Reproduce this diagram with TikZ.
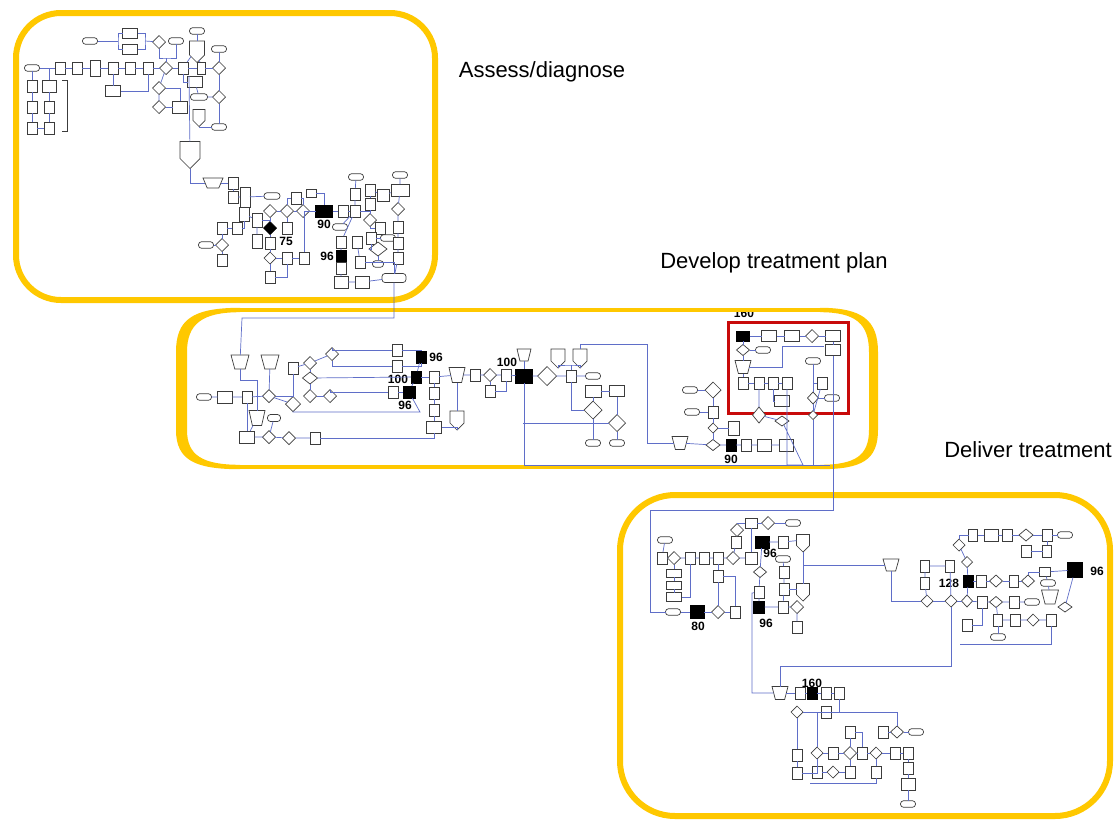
\documentclass[tikz,border=0pt]{standalone}
\usepackage{fontspec}
\setmainfont{Liberation Sans}
\usetikzlibrary{shapes.geometric,shapes.symbols}
\definecolor{fy}{RGB}{255,200,0}
\definecolor{lnc}{RGB}{95,110,200}
\definecolor{shp}{RGB}{60,60,60}
\definecolor{rd}{RGB}{200,10,10}
\tikzset{
 sh/.style={draw=shp,fill=white,line width=0.7pt,inner sep=0pt,outer sep=0pt},
 bx/.style={sh,rectangle,minimum width=10pt,minimum height=12pt},
 bw/.style={minimum width=#1pt},
 bh/.style={minimum height=#1pt},
 dia/.style={sh,diamond,shape aspect=1,minimum width=13pt,minimum height=13pt},
 tm/.style={sh,rectangle,rounded corners=3pt,minimum width=15pt,minimum height=6.5pt},
 tr/.style={sh,trapezium,inner sep=1pt,shape border rotate=180,trapezium left angle=70,trapezium right angle=70,trapezium stretches=true,minimum width=18pt,minimum height=12pt},
 sd/.style={sh,signal,inner sep=1pt,signal to=south,signal from=nowhere,minimum width=14pt,minimum height=14pt},
 bk/.style={fill=black,draw=black},
 num/.style={font=\fontsize{12}{12}\selectfont\bfseries,inner sep=0pt},
 ttl/.style={font=\fontsize{22}{24}\selectfont,inner sep=0pt},
 cn/.style={draw=lnc,line width=0.7pt},
 frm/.style={draw=fy,line width=6pt},
}
\newcommand\Nbx[4][]{\node[bx,#1] (#2) at (#3,#4) {};}
\newcommand\Ndi[4][]{\node[dia,#1] (#2) at (#3,#4) {};}
\newcommand\Ntm[4][]{\node[tm,#1] (#2) at (#3,#4) {};}
\newcommand\Ntr[4][]{\node[tr,#1] (#2) at (#3,#4) {};}
\newcommand\Nsd[4][]{\node[sd,#1] (#2) at (#3,#4) {};}
\newcommand\Nbk[4][]{\node[bx,bk,#1] (#2) at (#3,#4) {};}
\begin{document}
\begin{tikzpicture}[x=1pt,y=-1pt]
\useasboundingbox (0,0) rectangle (1120,820);
\fill[white] (0,0) rectangle (1120,820);
\node[num] (L160a) at (744,313.5) {160};
% frames
\draw[frm,rounded corners=45pt] (16,13) rectangle (435,300);
\draw[draw=fy,line width=4.5pt] (236,310) -- (824,310);
\draw[draw=fy,line width=4.5pt] (236,467) -- (824,467);
\fill[fy] (240,307.8) .. controls (192,307.8) and (176,320) .. (176,352) -- (176,430) .. controls (176,460) and (195,469.2) .. (240,469.2) -- (240,464.8) .. controls (202,464.8) and (187,455) .. (187,430) -- (187,352) .. controls (187,324) and (202,312.2) .. (240,312.2) -- cycle;
\fill[fy] (820,307.8) .. controls (862,307.8) and (878,320) .. (878,352) -- (878,430) .. controls (878,460) and (862,469.2) .. (820,469.2) -- (820,464.8) .. controls (856,464.8) and (869,455) .. (869,430) -- (869,352) .. controls (869,324) and (856,312.2) .. (820,312.2) -- cycle;
\draw[frm,rounded corners=55pt] (620,495) rectangle (1110,816);
\draw[draw=rd,line width=3pt] (728,322) rectangle (848,413);
% titles
\node[ttl] (t1) at (542,72) {Assess/diagnose};
\node[ttl] (t2) at (774,263) {Develop treatment plan};
\node[ttl] (t3) at (1028,450) {Deliver treatment};

% ===== Frame 1 top cluster
\Ntm{A1}{90}{41}
\Nbx[bw=15,bh=10]{A2}{130}{33}
\Nbx[bw=15,bh=10]{A3}{130}{49}
\Ndi{A4}{159}{42}
\Ntm{A5}{176}{41}
\Ntm{A6}{197}{31}
\Nsd[bw=15,bh=15]{A7}{197}{48}
\Ntm{A8}{219}{49}
\Ntm{A9}{32}{68}
\Nbx{A10}{60}{68}
\Nbx{A11}{77}{68}
\Nbx[bh=16]{A12}{95}{68}
\Nbx{A13}{113}{68}
\Nbx{A14}{130}{68}
\Nbx{A15}{148}{68}
\Ndi{A16}{166}{68}
\Nbx{A17}{183}{68}
\Nbx[bw=8]{A18}{201}{68}
\Ndi{A19}{219}{68}
\Nbx{A20}{32}{86}
\Nbx[bw=14]{A21}{49}{86}
\Nbx{A22}{32}{107}
\Nbx{A23}{49}{107}
\Nbx{A24}{32}{128}
\Nbx{A25}{49}{128}
\Nbx[bw=15,bh=11]{A26}{113}{91}
\Ndi{A27}{159}{88}
\Ndi{A28}{159}{107}
\Nbx[bw=15,bh=11]{A29}{195}{82}
\Ntm[bw=17]{A30}{199}{97}
\Nbx[bw=15]{A31}{180}{107}
\Ndi{A32}{219}{97}
\Nsd[bw=12,bh=12]{A33}{199}{115}
\Ntm{A34}{219}{127}
\Nsd[bw=20,bh=18]{A35}{190}{150}
\draw[draw=shp,line width=0.7pt] (62,80) -- (67,80) -- (67,131) -- (62,131);
\coordinate (j1) at (49,68);
\coordinate (j2) at (118,41);
\coordinate (j3) at (145,41);
\coordinate (j4) at (166,58);
\coordinate (j5) at (189,76);
\draw[cn] (A9)--(A10)--(A11)--(A12)--(A13)--(A14)--(A15)--(A16)--(A17)--(A18)--(A19);
\draw[cn] (A9)--(A20)--(A22)--(A24)--(A25)--(A23)--(A21)--(j1);
\draw[cn] (A1)--(j2); \draw[cn] (A2) -| (j2) |- (A3);
\draw[cn] (A2) -| (j3) |- (A3); \draw[cn] (j3)--(A4);
\draw[cn] (A4) |- (j4) -| (A5); \draw[cn] (j4)--(A16);
\draw[cn] (A6)--(A7); \draw[cn] (A7)--(A17); \draw[cn] (A7)--(A18);
\draw[cn] (A8)--(A19)--(A32)--(A34);
\draw[cn] (A13)--(A26); \draw[cn] (A26) -| (A15);
\draw[cn] (A16)--(A27)--(A28);
\draw[cn] (A27) -| (A31); \draw[cn] (A28)--(A31);
\draw[cn] (A17) |- (A29); \draw[cn] (A29)--(A30)--(A32);
\draw[cn] (A33) |- (A34);
\draw[cn] (j5)--(A35);

% ===== Frame 1 bottom cluster
\Ntr[bw=20,bh=10]{D1}{213}{183}
\Nbx{D2}{233}{183}
\Nbx{D3}{233}{197}
\Nbx[bh=20]{D4}{245}{197}
\Nbx[bh=14]{D5}{244}{214}
\Nbx[bh=14]{D6}{257}{220}
\Nbx[bh=14]{D7}{257}{241}
\Ntm[bw=16]{D8}{272}{196}
\Nbx{D9}{296}{198}
\Nbx[bh=8]{D10}{311}{193}
\Ndi{D11}{270}{211}
\Ndi{D12}{287}{211}
\Ndi{D13}{303}{211}
\Nbk[bw=17,bh=12]{D14}{324}{211}
\node[num] (L90a) at (324,224) {90};
\node[dia,bk] (D15) at (270,228) {};
\node[num] (L75) at (286,241) {75};
\Nbx{D16}{287}{228}
\Nbx{D17}{270}{243}
\Ndi[bw=12,bh=12]{D18}{270}{258}
\Nbx{D19}{270}{277}
\Nbx{D20}{287}{258}
\Nbx{D21}{304}{258}
\Nbx{D22}{222}{228}
\Nbx{D23}{237}{228}
\Ndi{D24}{222}{245}
\Ntm{D25}{206}{245}
\Nbx{D26}{222}{260}
\Nbx{D27}{343}{211}
\Nbx{D28}{355}{211}
\Nbx{D29}{355}{194}
\Ntm{D30}{356}{177}
\Ntm{D31}{340}{227}
\Nbx{D32}{341}{242}
\Nbk{D33}{341}{256}
\node[num] (L96a) at (327,256) {96};
\Nbx{D34}{341}{268}
\Nbx[bw=14]{D35}{341}{282}
\Nbx[bw=14]{D36}{362}{282}
\Ntm[bw=24,bh=9]{D37}{394}{278}
\Nbx{D38}{357}{242}
\Nbx{D39}{360}{262}
\Nbx{D40}{370}{190}
\Nbx[bw=12]{D41}{383}{195}
\Nbx[bw=18,bh=12]{D42}{400}{190}
\Ntm{D43}{400}{175}
\Nbx{D44}{370}{204}
\Ndi{D45}{370}{220}
\Nbx{D46}{380}{228}
\Nbx{D47}{371}{238}
\Ntm{D48}{388}{238}
\Ndi[bw=18,bh=14]{D49}{378}{249}
\Ntm[bw=11]{D50}{378}{264}
\Ndi{D51}{398}{209}
\Nbx{D52}{398}{227}
\Nbx{D53}{398}{243}
\Nbx{D54}{398}{258}
\draw[cn] (A35) |- (D1);
\draw[cn] (D1)--(D2)--(D3); \draw[cn] (D3)--(D4)--(D8);
\draw[cn] (D4)--(D5)--(D6)--(D7);
\draw[cn] (D6) -| (D11);
\draw[cn] (D11)--(D12)--(D13)--(D14)--(D27)--(D28);
\draw[cn] (D12) |- (D9); \draw[cn] (D9) -| (D13); \draw[cn] (D10) -| (D14);
\draw[cn] (D11)--(D15)--(D17)--(D18)--(D19);
\draw[cn] (D12)--(D16);
\draw[cn] (D18)--(D20)--(D21); \draw[cn] (D19) -| (D20);
\draw[cn] (D21) |- (D13);
\draw[cn] (D22)--(D23); \draw[cn] (D22)--(D24)--(D26); \draw[cn] (D25)--(D24);
\draw[cn] (D23) -| (D5);
\draw[cn] (D28)--(D29)--(D30);
\draw[cn] (D28)--(D31); \draw[cn] (D28)--(D32);
\draw[cn] (D32)--(D33)--(D34)--(D35)--(D36)--(D37);
\draw[cn] (D38)--(D39); \draw[cn] (D39) -| (D37);
\draw[cn] (D40)--(D44)--(D45); \draw[cn] (D45) |- (D46);
\draw[cn] (D47)--(D48); \draw[cn] (D47) |- (D49); \draw[cn] (D49)--(D50);
\draw[cn] (D40)--(D41)--(D42)--(D43);
\draw[cn] (D42)--(D51)--(D52)--(D53)--(D54)--(D37);
\draw[cn] (D28) -| (D44);

% ===== Frame 2
\Ntm{B1}{204}{397}
\Nbx[bw=15]{B2}{225}{397}
\Nbx{B3}{247}{397}
\Ndi{B4}{269}{396}
\Ntr[bw=18,bh=14]{B5}{240}{362}
\Ntr[bw=18,bh=14]{B6}{270}{362}
\Nbx{B7}{293}{368}
\Ndi{B8}{310}{363}
\Ndi{B9}{332}{354}
\Ndi[bw=15,bh=12]{B10}{310}{378}
\Ndi{B11}{310}{396}
\Ndi{B12}{330}{396}
\Ndi[bw=15,bh=15]{B13}{293}{404}
\Ntr[bw=16,bh=15]{B14}{257}{418}
\Ntm[bw=13,bh=7]{B15}{274}{418}
\Nbx[bw=15]{B16}{247}{437}
\Ndi{B17}{269}{437}
\Ndi{B18}{289}{438}
\Nbx{B19}{315}{438}
\Nbx{B20}{397}{350}
\Nbx{B21}{397}{366}
\Nbx{B22}{393}{392}
\Nbk{B23}{421}{357}
\node[num] (L96b) at (436,357) {96};
\Nbk{B24}{416}{377}
\node[num] (L100a) at (398,379) {100};
\Nbk[bw=12]{B25}{409}{392}
\node[num] (L96c) at (405,405) {96};
\Nbx{B26}{434}{377}
\Nbx{B27}{434}{393}
\Nbx{B28}{434}{410}
\Nbx[bw=15]{B29}{434}{427}
\Ntr[bw=16,bh=15]{B30}{457}{375}
\Nbx{B31}{475}{375}
\Ndi{B32}{490}{375}
\Nbx{B33}{506}{375}
\Nbx{B34}{490}{391}
\Nsd[bw=14,bh=13]{B35}{457}{417}
\Ntr[bw=14,bh=12]{B36}{524}{355}
\Nbk[bw=17,bh=14]{B37}{524}{376}
\node[num] (L100b) at (507,362) {100};
\Ndi[bw=19,bh=19]{B38}{547}{376}
\Nbx{B39}{571}{376}
\Ntm{B40}{593}{376}
\Nsd[bw=14,bh=13]{B41}{558}{355}
\Nsd[bw=14,bh=13]{B42}{580}{355}
\Nbx[bw=16]{B43}{593}{391}
\Nbx[bw=15,bh=11]{B44}{617}{391}
\Ndi[bw=18,bh=18]{B45}{593}{410}
\Ndi[bw=17,bh=17]{B46}{617}{423}
\Ntm{B47}{593}{443}
\Ntm{B48}{617}{443}
\Ntr[bw=16,bh=13]{B49}{680}{443}
\Ntm{B50}{690}{390}
\Ndi[bw=16,bh=16]{B51}{713}{390}
\Ntm{B52}{692}{412}
\Nbx{B53}{713}{412}
\Ndi[bw=10,bh=10]{B54}{713}{428}
\Ndi[bw=14,bh=11]{B55}{713}{445}
\Nbx[bw=11,bh=14]{B56}{734}{428}
\Nbk{B57}{731}{445}
\node[num] (L90b) at (731,459) {90};
\Nbx{B58}{746}{445}
\Nbx[bw=14]{B59}{764}{445}
\Nbx[bw=14]{B60}{786}{445}
\Nbk[bw=13,bh=10]{B61}{743}{336}
\Nbx[bw=15,bh=11]{B62}{769}{336}
\Nbx[bw=15,bh=11]{B63}{792}{336}
\Ndi{B64}{812}{336}
\Nbx[bw=15,bh=11]{B65}{833}{336}
\Nbx[bw=15,bh=11]{B66}{833}{350}
\Ndi[bw=13,bh=11]{B67}{743}{350}
\Ntm{B68}{763}{350}
\Ntr[bw=16,bh=13]{B69}{743}{367}
\Nbx{B70}{743}{383}
\Nbx{B71}{759}{383}
\Nbx{B72}{773}{383}
\Nbx{B73}{787}{383}
\Nbx[bw=15,bh=11]{B74}{782}{401}
\Ntm{B75}{813}{361}
\Nbx{B76}{822}{383}
\Ndi[bw=11,bh=12]{B77}{813}{398}
\Ntm{B78}{832}{398}
\Ndi[bw=13,bh=16]{B79}{759}{415}
\Ndi[bw=14,bh=10]{B80}{782}{421}
\Ndi[bw=9,bh=9]{B81}{813}{415}
\coordinate (k1) at (242,318);
\coordinate (k3) at (830,465);
\coordinate (k3b) at (813,465);
\coordinate (k4) at (647,344);
\coordinate (j6) at (240,380);
\coordinate (j7) at (420,412);
\coordinate (j8) at (571,365);
\coordinate (j9) at (523,423);
\coordinate (j10) at (782,346);
\coordinate (j11) at (824,346);
\coordinate (j15) at (803,465);
\draw[cn] (D37) |- (k1) -- (B5);
\draw[cn] (B1)--(B2)--(B3)--(B4);
\draw[cn] (B5)--(j6) -| (B14);
\draw[cn] (B3)--(B16);
\draw[cn] (B6)--(B4); \draw[cn] (B4) -| (B7); \draw[cn] (B4)--(B13);
\draw[cn] (B7)--(B8)--(B9);
\draw[cn] (B9) |- (B20); \draw[cn] (B9) |- (B21);
\draw[cn] (B8)--(B10)--(B11)--(B12);
\draw[cn] (B10)--(B24);
\draw[cn] (B12) |- (B22); \draw[cn] (B22)--(B25);
\draw[cn] (B13) |- (j7) -- (B25);
\draw[cn] (B20) -| (B23); \draw[cn] (B21) -| (B23);
\draw[cn] (B23)--(B24)--(B25);
\draw[cn] (B24)--(B26)--(B27)--(B28)--(B29);
\draw[cn] (B16)--(B17)--(B18)--(B19); \draw[cn] (B15)--(B17); \draw[cn] (B14)--(B16);
\draw[cn] (B19) -| (B29);
\draw[cn] (B26)--(B30)--(B31)--(B32)--(B33)--(B37)--(B38)--(B39)--(B40);
\draw[cn] (B32)--(B34); \draw[cn] (B34) -| (B33);
\draw[cn] (B29) -| (B35); \draw[cn] (B30)--(B35);
\draw[cn] (B36)--(B37);
\draw[cn] (B41) |- (j8) -| (B42); \draw[cn] (j8)--(B39);
\draw[cn] (B39) |- (B45);
\draw[cn] (B43)--(B44); \draw[cn] (B43)--(B45)--(B47); \draw[cn] (B44)--(B46)--(B48);
\draw[cn] (B37) |- (k3);
\draw[cn] (j9)--(B46);
\draw[cn] (B42) |- (k4) |- (B49);
\draw[cn] (B49)--(B55)--(B57)--(B58)--(B59)--(B60);
\draw[cn] (B50)--(B51)--(B53)--(B54)--(B55); \draw[cn] (B52)--(B53);
\draw[cn] (B54)--(B56);
\draw[cn] (B61)--(B62)--(B63)--(B64)--(B65)--(B66);
\draw[cn] (B61)--(B67)--(B69)--(B70)--(B71)--(B72)--(B73);
\draw[cn] (B67)--(B68);
\draw[cn] (B69) -| (j10) -- (j11);
\draw[cn] (B71)--(B79)--(B80); \draw[cn] (B72) |- (B74);
\draw[cn] (B75)--(B77)--(B81)--(k3b); \draw[cn] (B76)--(B81); \draw[cn] (B77)--(B78);
\draw[cn] (B75) |- (B76);
\draw[cn] (B73) |- (j15) -- (B80);

% ===== Frame 3
\Ntm{C1}{673}{612}
\Nbk[bw=14,bh=13]{C2}{697}{612}
\node[num] (L80) at (698,626) {80};
\Ndi{C3}{718}{612}
\Nbx{C4}{735}{612}
\Ntm{C5}{665}{540}
\Nbx{C6}{662}{558}
\Ndi{C7}{674}{558}
\Nbx{C8}{690}{558}
\Nbx{C9}{704}{558}
\Nbx{C10}{718}{558}
\Ndi{C11}{733}{558}
\Nbx[bw=12]{C12}{751}{558}
\Nbx[bw=15,bh=8]{C13}{674}{573}
\Nbx[bw=15,bh=8]{C14}{674}{585}
\Nbx[bw=15,bh=9]{C15}{674}{597}
\Nbx{C16}{718}{576}
\Nbx{C17}{736}{542}
\Ndi{C18}{737}{530}
\Nbx[bw=12,bh=10]{C19}{751}{523}
\Ndi{C20}{768}{523}
\Ntm{C21}{793}{523}
\Nbk[bw=14,bh=12]{C22}{762}{542}
\node[num] (L96d) at (770,553) {96};
\Nbx{C23}{783}{542}
\Nsd[bw=13,bh=12]{C24}{803}{540}
\Ndi[bw=13,bh=11]{C25}{760}{572}
\Nbx{C26}{759}{592}
\Nbk[bw=11,bh=12]{C27}{759}{607}
\node[num] (L96e) at (766,623) {96};
\Nbx{C28}{783}{607}
\Ndi{C29}{797}{607}
\Nbx{C30}{797}{627}
\Ntm{C31}{783}{559}
\Nbx{C32}{784}{572}
\Nbx{C33}{784}{589}
\Nsd[bw=13,bh=12]{C34}{803}{589}
\Ntr[bw=16,bh=12]{C35}{891}{565}
\Ndi[bw=12,bh=12]{C36}{927}{601}
\Ndi[bw=12,bh=12]{C37}{951}{601}
\Ndi[bw=11,bh=12]{C38}{967}{601}
\Nbx[bw=9]{C39}{925}{566}
\Nbx[bw=9]{C40}{925}{583}
\Nbx[bw=9]{C41}{950}{566}
\Ndi[bw=12,bh=12]{C42}{959}{545}
\Nbx[bw=9]{C43}{973}{535}
\Nbx[bw=14]{C44}{991}{535}
\Nbx{C45}{1007}{535}
\Ndi[bw=14,bh=12]{C46}{1026}{535}
\Nbx{C47}{1047}{535}
\Ntm{C48}{1065}{535}
\Nbx{C49}{1026}{551}
\Nbx[bw=9]{C50}{1047}{551}
\Ndi[bw=11,bh=11]{C51}{967}{562}
\Nbk[bw=10,bh=12]{C52}{968}{581}
\node[num] (L128) at (949,583) {128};
\Nbx{C53}{981}{581}
\Ndi[bw=13,bh=12]{C54}{996}{581}
\Nbx[bw=9]{C55}{1014}{581}
\Ndi[bw=13,bh=12]{C56}{1028}{581}
\Nbx[bw=11,bh=9]{C57}{1045}{572}
\Ntm{C58}{1048}{583}
\Ntr[bw=17,bh=14]{C59}{1050}{597}
\Nbk[bw=15,bh=15]{C60}{1075}{570}
\node[num] (L96f) at (1097,571) {96};
\Ndi[bw=14,bh=10]{C61}{1065}{607}
\Nbx{C62}{982}{602}
\Ndi[bw=13,bh=11]{C63}{996}{602}
\Nbx{C64}{1014}{602}
\Ntm{C65}{1032}{602}
\Nbx[bw=9]{C66}{998}{620}
\Nbx{C67}{1015}{620}
\Ndi[bw=12,bh=12]{C68}{1033}{620}
\Nbx{C69}{1051}{620}
\Ntm{C70}{998}{637}
\Nbx{C71}{967}{625}
\Ntr[bw=16,bh=13]{C72}{780}{693}
\Nbx{C73}{800}{693}
\Nbk{C74}{812}{693}
\node[num] (L160b) at (812,683) {160};
\Nbx{C75}{826}{693}
\Nbx{C76}{839}{693}
\Ndi[bw=12,bh=12]{C77}{797}{712}
\Nbx{C78}{826}{712}
\Nbx{C79}{850}{732}
\Nbx{C80}{883}{732}
\Ndi[bw=13,bh=12]{C81}{897}{732}
\Ntm{C82}{916}{732}
\Nbx{C83}{797}{755}
\Nbx{C84}{797}{773}
\Ndi[bw=12,bh=12]{C85}{817}{753}
\Nbx{C86}{833}{753}
\Ndi[bw=13,bh=13]{C87}{850}{753}
\Nbx{C88}{862}{753}
\Ndi[bw=12,bh=12]{C89}{876}{753}
\Nbx{C90}{895}{753}
\Nbx{C91}{908}{753}
\Nbx{C92}{817}{772}
\Ndi[bw=12,bh=12]{C93}{833}{772}
\Nbx{C94}{850}{772}
\Nbx{C95}{876}{772}
\Nbx{C96}{908}{768}
\Nbx[bw=14]{C97}{908}{784}
\Ntm{C98}{908}{804}
\coordinate (k2) at (650,510);
\coordinate (k5) at (803,565);
\coordinate (k6) at (780,666);
\coordinate (k7) at (752,593);
\coordinate (k8) at (960,644);
\coordinate (j13) at (817,712);
\coordinate (j14) at (810,783);
\draw[cn] (B66) |- (k2) |- (C1);
\draw[cn] (C1)--(C2)--(C3)--(C4);
\draw[cn] (C3)--(C16); \draw[cn] (C4) |- (C16);
\draw[cn] (C5)--(C6)--(C7)--(C8)--(C9)--(C10)--(C11)--(C12);
\draw[cn] (C7)--(C13)--(C14)--(C15); \draw[cn] (C15) -| (C8);
\draw[cn] (C10)--(C16);
\draw[cn] (C11)--(C17)--(C18); \draw[cn] (C18) |- (C19);
\draw[cn] (C19)--(C20)--(C21); \draw[cn] (C19)--(C12);
\draw[cn] (C22)--(C23)--(C24);
\draw[cn] (C22)--(C25)--(C26)--(C27)--(C28)--(C29)--(C30);
\draw[cn] (C31)--(C32)--(C33)--(C28); \draw[cn] (C33)--(C34);
\draw[cn] (C24)--(C34); \draw[cn] (k5)--(C35);
\draw[cn] (C35) |- (C36); \draw[cn] (C36)--(C37)--(C38);
\draw[cn] (C39)--(C40)--(C36); \draw[cn] (C39)--(C41)--(C37);
\draw[cn] (C42)--(C51)--(C52)--(C38);
\draw[cn] (C42) |- (C43); \draw[cn] (C43)--(C44)--(C45)--(C46)--(C47)--(C48);
\draw[cn] (C47)--(C50)--(C49);
\draw[cn] (C52)--(C53)--(C54)--(C55)--(C56);
\draw[cn] (C56) |- (C57); \draw[cn] (C57)--(C58)--(C59);
\draw[cn] (C57)--(C60)--(C61);
\draw[cn] (C38)--(C62)--(C63)--(C64)--(C65);
\draw[cn] (C63)--(C66)--(C67)--(C68)--(C69); \draw[cn] (C66)--(C70);
\draw[cn] (C71) -| (C62);
\draw[cn] (C69) |- (k8);
\draw[cn] (C37) |- (k6) -- (C72);
\draw[cn] (C26) -- (k7) |- (C72);
\draw[cn] (C72)--(C73)--(C74)--(C75)--(C76);
\draw[cn] (C76) |- (C77);
\draw[cn] (C78) -| (C81); \draw[cn] (C80)--(C81)--(C82);
\draw[cn] (C77)--(C83)--(C84);
\draw[cn] (j13)--(C85);
\draw[cn] (C85)--(C86)--(C87)--(C88)--(C89)--(C90)--(C91);
\draw[cn] (C85)--(C92)--(C93)--(C94)--(C87);
\draw[cn] (C79)--(C87); \draw[cn] (C79) -| (C88);
\draw[cn] (C89)--(C95);
\draw[cn] (C91)--(C96)--(C97)--(C98);
\draw[cn] (C84) -| (C85);
\draw[cn] (C95) |- (j14);
\end{tikzpicture}
\end{document}
